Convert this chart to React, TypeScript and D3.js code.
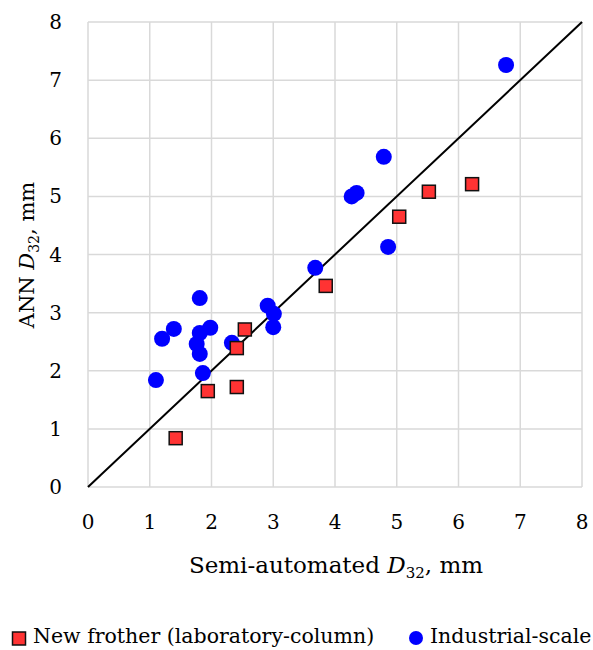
import React from 'react'
import { scaleLinear, line } from 'd3'

// Data
const labX = [1.42, 1.94, 2.41, 2.41, 2.54, 3.85, 5.04, 5.52, 6.22]
const labY = [0.84, 1.65, 1.72, 2.39, 2.71, 3.46, 4.65, 5.08, 5.21]

const indX = [1.10, 1.20, 1.39, 1.81, 1.98, 1.81, 1.76, 1.81, 1.86, 2.33, 2.91, 3.01, 3.00, 3.68, 4.27, 4.35, 4.79, 4.86, 6.77]
const indY = [1.84, 2.55, 2.72, 3.25, 2.74, 2.65, 2.46, 2.29, 1.96, 2.48, 3.12, 2.98, 2.75, 3.77, 5.00, 5.06, 5.68, 4.13, 7.26]

const ticks = [0, 1, 2, 3, 4, 5, 6, 7, 8]
const diagonal = [[0, 0], [8, 8]]

const txt = { fontFamily: "'DejaVu Serif', 'Liberation Serif', serif" }

const App = () => {
    const width = 593
    const height = 650

    // Axis
    const xScale = scaleLinear().domain([0, 8]).range([88, 582])
    const yScale = scaleLinear().domain([0, 8]).range([487, 22])

    const diag = line()
        .x((d) => xScale(d[0]))
        .y((d) => yScale(d[1]))

    return (
        <svg width={width} height={height} style={{ position: 'absolute', left: 0, top: 0, background: '#fff' }}>
            {/* grid */}
            {ticks.map((t) => (
                <g key={'g' + t}>
                    <line x1={xScale(t)} x2={xScale(t)} y1={yScale(0)} y2={yScale(8)} stroke="#d9d9d9" strokeWidth={1.5} />
                    <line x1={xScale(0)} x2={xScale(8)} y1={yScale(t)} y2={yScale(t)} stroke="#d9d9d9" strokeWidth={1.5} />
                </g>
            ))}
            {/* tick labels */}
            {ticks.map((t) => (
                <text key={'x' + t} x={xScale(t)} y={529} textAnchor="middle" style={txt} fontSize={20} fill="#000">{t}</text>
            ))}
            {ticks.map((t) => (
                <text key={'y' + t} x={62} y={yScale(t) + 7} textAnchor="end" style={txt} fontSize={20} fill="#000">{t}</text>
            ))}
            {/* 1:1 line */}
            <path d={diag(diagonal)} fill="none" stroke="#000" strokeWidth={2} />
            {/* series */}
            {indX.map((x, i) => (
                <circle key={'c' + i} cx={xScale(x)} cy={yScale(indY[i])} r={8} fill="#0000ff" />
            ))}
            {labX.map((x, i) => (
                <rect key={'r' + i} x={xScale(x) - 6.5} y={yScale(labY[i]) - 6.5} width={13} height={13} fill="#ff3333" stroke="#111" strokeWidth={1.5} />
            ))}
            {/* axis titles */}
            <text x={336} y={573} textAnchor="middle" style={txt} fontSize={23} fill="#000">
                Semi-automated <tspan fontStyle="italic">D</tspan><tspan fontSize={15} dy={5}>32</tspan><tspan dy={-5}>, mm</tspan>
            </text>
            <text transform="translate(34,255) rotate(-90)" textAnchor="middle" style={txt} fontSize={21} fill="#000">
                ANN <tspan fontStyle="italic">D</tspan><tspan fontSize={14} dy={5}>32</tspan><tspan dy={-5}>, mm</tspan>
            </text>
            {/* legend */}
            <rect x={12.5} y={632} width={13} height={13} fill="#ff3333" stroke="#111" strokeWidth={1.5} />
            <text x={33} y={643} style={txt} fontSize={20.5} fill="#000">New frother (laboratory-column)</text>
            <circle cx={416} cy={638} r={7} fill="#0000ff" />
            <text x={430} y={643} style={txt} fontSize={20.5} fill="#000">Industrial-scale</text>
        </svg>
    )
}

export default App
